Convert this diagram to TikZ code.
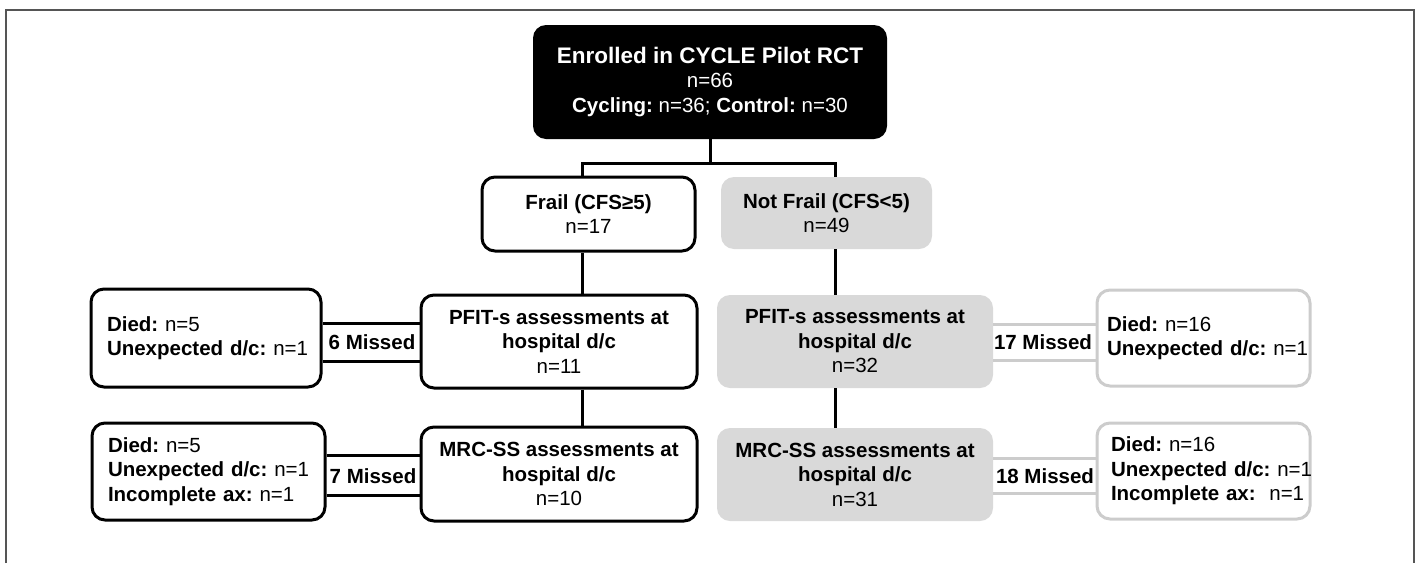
\documentclass[tikz,border=0pt]{standalone}
\usepackage{fontspec}
\setmainfont{Liberation Sans}
\frenchspacing
\newcommand{\bodyfnt}{\fontsize{20.5}{24.5}\selectfont}
\newcommand{\titlefnt}{\fontsize{22.5}{24.5}\selectfont}
\definecolor{nfgray}{HTML}{D9D9D9}
\definecolor{lgray}{HTML}{CCCCCC}
\definecolor{framegray}{HTML}{555555}
\begin{document}
\begin{tikzpicture}[x=1pt,y=-1pt,
  base/.style={rounded corners=13pt, inner sep=0pt, font=\bodyfnt, align=center},
  darkbox/.style={base, fill=black, text=white},
  whitebox/.style={base, draw=black, line width=3pt, fill=white},
  greybox/.style={base, fill=nfgray},
  lostbox/.style={base, draw=black, line width=3pt, fill=white, align=left},
  lostgrey/.style={base, draw=lgray, line width=3pt, fill=white, align=left},
  conn/.style={draw=black, line width=3pt},
  conngrey/.style={draw=lgray, line width=3pt},
  misslbl/.style={font=\bodyfnt\bfseries, inner sep=0pt}
]
\useasboundingbox (0,0) rectangle (1418,563);
\draw[framegray, line width=1.5pt] (6,563) -- (6,10) -- (1414,10) -- (1414,563);

% boxes
\node[darkbox, minimum width=354pt, minimum height=114pt] (top) at (710,82)
  {{\titlefnt\bfseries Enrolled in CYCLE Pilot RCT}\\n=66\\\textbf{Cycling:} n=36; \textbf{Control:} n=30};
\node[whitebox, minimum width=213pt, minimum height=74pt] (frail) at (588.5,214)
  {\textbf{Frail (CFS≥5)}\\n=17};
\node[greybox, minimum width=211pt, minimum height=72pt] (nfrail) at (826.5,213)
  {\textbf{Not Frail (CFS<5)}\\n=49};
\node[whitebox, minimum width=276pt, minimum height=93pt] (pfitF) at (559,341.5)
  {\textbf{PFIT-s assessments at}\\\textbf{hospital d/c}\\n=11};
\node[whitebox, minimum width=276pt, minimum height=94pt] (mrcF) at (559,474)
  {\textbf{MRC-SS assessments at}\\\textbf{hospital d/c}\\n=10};
\node[greybox, minimum width=276pt, minimum height=93pt] (pfitN) at (855,341.5)
  {\textbf{PFIT-s assessments at}\\\textbf{hospital d/c}\\n=32};
\node[greybox, minimum width=276pt, minimum height=93pt] (mrcN) at (855,474.5)
  {\textbf{MRC-SS assessments at}\\\textbf{hospital d/c}\\n=31};
\node[lostbox, minimum height=98pt, inner xsep=16pt, text width=198pt] (diedF1) at (206,338)
  {\mbox{\textbf{Died:} n=5}\\\mbox{\textbf{Unexpected d/c:} n=1}};
\node[lostbox, minimum height=97pt, inner xsep=16pt, text width=201pt] (diedF2) at (208.5,471.5)
  {\mbox{\textbf{Died:} n=5}\\\mbox{\textbf{Unexpected d/c:} n=1}\\\mbox{\textbf{Incomplete ax:} n=1}};
\node[lostgrey, minimum height=96pt, inner xsep=10pt, text width=193pt] (diedN1) at (1203.5,338)
  {\mbox{\textbf{Died:} n=16}\\\mbox{\textbf{Unexpected d/c:} n=1}};
\node[lostgrey, minimum height=96pt, inner xsep=14pt, text width=185pt] (diedN2) at (1203.5,471)
  {\mbox{\textbf{Died:} n=16}\\\mbox{\textbf{Unexpected d/c:} n=1}\\\mbox{\textbf{Incomplete ax:}\ \ n=1}};

% tree connectors
\coordinate (jL) at (582,163);
\coordinate (jR) at (835,163);
\draw[conn] (top.south) -- (top.south |- jL);
\draw[conn] (jL |- frail.north) -- (jL) -- (jR) -- (jR |- nfrail.north);
\draw[conn] (jL |- frail.south) -- (jL |- pfitF.north);
\draw[conn] (jL |- pfitF.south) -- (jL |- mrcF.north);
\draw[conn] (jR |- nfrail.south) -- (jR |- pfitN.north);
\draw[conn] (jR |- pfitN.south) -- (jR |- mrcN.north);

% missed connectors
\coordinate (a1) at (0,323); \coordinate (b1) at (0,361);
\coordinate (a2) at (0,455); \coordinate (b2) at (0,495);
\coordinate (a3) at (0,324); \coordinate (b3) at (0,360);
\coordinate (a4) at (0,458); \coordinate (b4) at (0,493);
\draw[conn] (diedF1.east |- a1) -- (pfitF.west |- a1);
\draw[conn] (diedF1.east |- b1) -- (pfitF.west |- b1);
\draw[conn] (diedF2.east |- a2) -- (mrcF.west |- a2);
\draw[conn] (diedF2.east |- b2) -- (mrcF.west |- b2);
\draw[conngrey] (pfitN.east |- a3) -- (diedN1.west |- a3);
\draw[conngrey] (pfitN.east |- b3) -- (diedN1.west |- b3);
\draw[conngrey] (mrcN.east |- a4) -- (diedN2.west |- a4);
\draw[conngrey] (mrcN.east |- b4) -- (diedN2.west |- b4);
\node[misslbl] (m1) at (372,342) {6 Missed};
\node[misslbl] (m2) at (373,476) {7 Missed};
\node[misslbl] (m3) at (1043,342) {17 Missed};
\node[misslbl] (m4) at (1045,476) {18 Missed};
\end{tikzpicture}
\end{document}
